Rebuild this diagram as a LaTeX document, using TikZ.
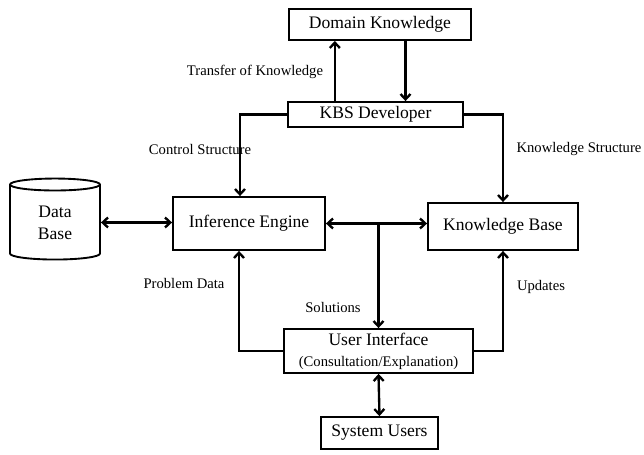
\documentclass[tikz,border=0pt]{standalone}
\usepackage{fontspec}
\setmainfont{Liberation Serif}
\usepackage{tikz}
\usetikzlibrary{shapes.geometric,arrows.meta,positioning,calc}

\begin{document}
\begin{tikzpicture}[
    x=0.03cm, y=-0.03cm,
    block/.style={rectangle, draw=black, line width=1.6pt, inner sep=0pt,
        align=center, font=\fontsize{15}{17}\selectfont},
    store/.style={cylinder, shape border rotate=90, aspect=0.35, draw=black,
        line width=1.6pt, inner sep=0pt, align=center,
        font=\fontsize{15}{19}\selectfont},
    tag/.style={font=\fontsize{12.5}{14}\selectfont, inner sep=0pt},
    arrow/.style={-{Straight Barb[length=1.6mm,width=3mm]}, line width=2pt},
    dbl/.style={{Straight Barb[length=1.6mm,width=3mm]}-{Straight Barb[length=1.6mm,width=3mm]}, line width=2pt}
]
\useasboundingbox (0,0) rectangle (644,455);

\node[block, minimum width=5.46cm, minimum height=0.93cm] (domain) at (380,24.5) {Domain Knowledge};
\node[block, minimum width=5.25cm, minimum height=0.75cm] (kbs) at (375.5,114.5) {KBS Developer};
\node[block, minimum width=4.56cm, minimum height=1.59cm] (engine) at (249,223.5) {Inference Engine};
\node[block, minimum width=4.5cm, minimum height=1.41cm] (kbase) at (503,226.5) {Knowledge Base};
\node[store, minimum width=2.7cm, minimum height=2.43cm] (data) at (55,222.5) {Data\\Base};
\node[block, minimum width=5.67cm, minimum height=1.32cm] (ui) at (378.5,351)
    {User Interface\\[1pt]{\fontsize{12.5}{14}\selectfont (Consultation/Explanation)}};
\node[block, minimum width=3.51cm, minimum height=0.96cm] (users) at (379.5,433) {System Users};

% labels
\node[tag] (transfer) at (255,72) {Transfer of Knowledge};
\node[tag] (control) at (200,149) {Control Structure};
\node[tag] (kstruct) at (579,149) {Knowledge Structure};
\node[tag] (problem) at (184,283) {Problem Data};
\node[tag] (solutions) at (333,307) {Solutions};
\node[tag] (updates) at (541,287) {Updates};

\draw[arrow] ([xshift=-1.22cm]kbs.north) -- ([xshift=-1.22cm]kbs.north |- domain.south);
\draw[arrow] ([xshift=0.9cm]kbs.north |- domain.south) -- ([xshift=0.9cm]kbs.north);
\draw[arrow] (kbs.west) -| ([xshift=-0.27cm]engine.north);
\draw[arrow] (kbs.east) -| (kbase.north);
\draw[dbl] (data.east) -- (data.east -| engine.west);
\draw[dbl] (engine.east) -- (engine.east -| kbase.west);
\draw[arrow] (engine.east -| ui.north) -- (ui.north);
\draw[arrow] (ui.west) -| ([xshift=-0.3cm]engine.south);
\draw[arrow] (ui.east) -| (kbase.south);
\draw[dbl] (ui.south) -- (users.north);

\end{tikzpicture}
\end{document}
